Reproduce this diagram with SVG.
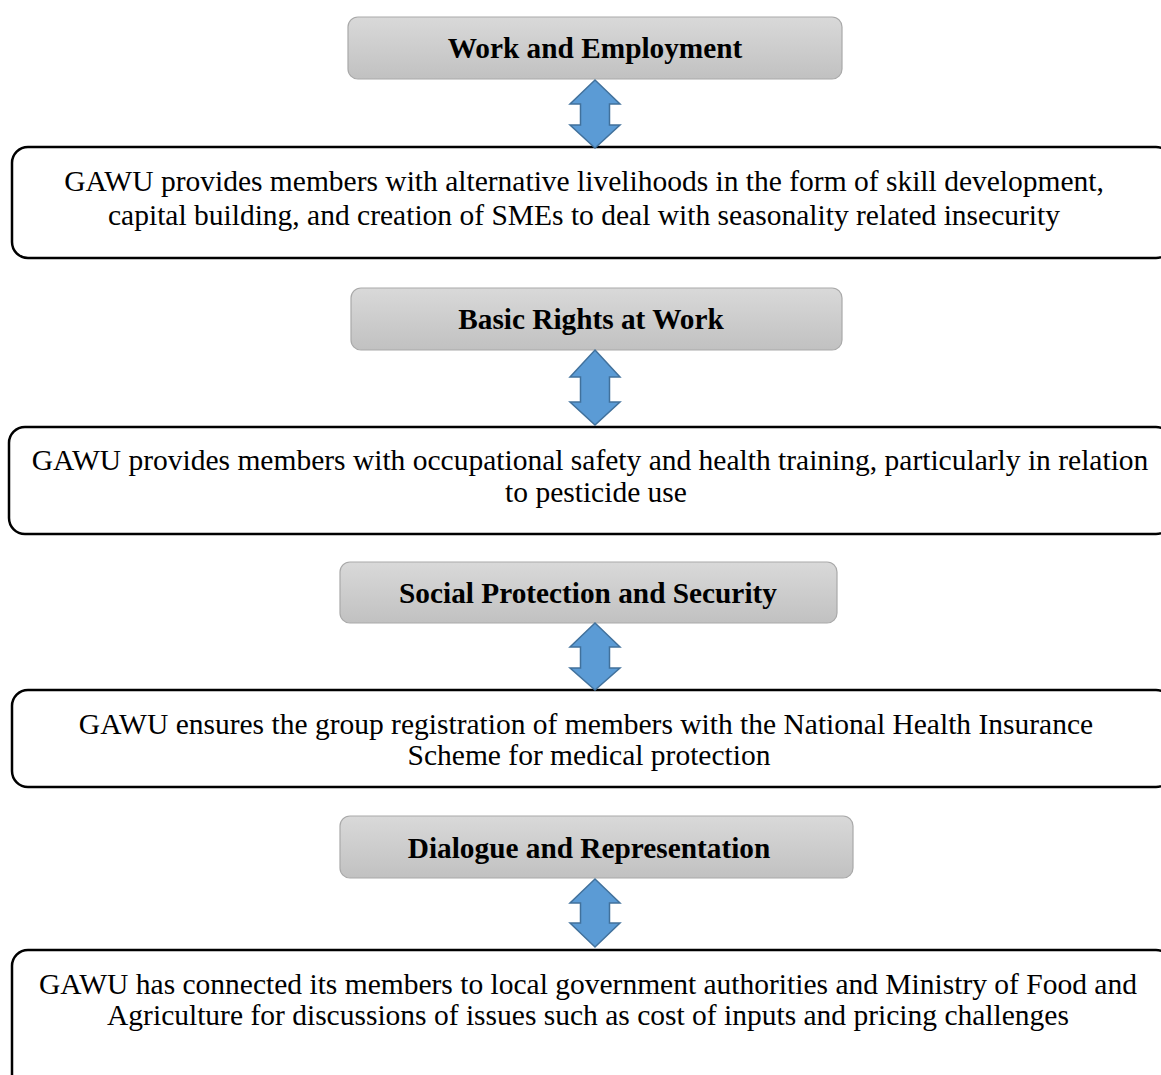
<svg xmlns="http://www.w3.org/2000/svg" width="1161" height="1075" viewBox="0 0 1161 1075">
  <defs>
    <linearGradient id="hdrFill" x1="0" y1="0" x2="0" y2="1">
      <stop offset="0" stop-color="#d9d9d9"/>
      <stop offset="1" stop-color="#c1c1c1"/>
    </linearGradient>
  </defs>
  <style>
    .hdr rect { fill: url(#hdrFill); stroke: #a9a9a9; stroke-width: 1.2; }
    .hdr text { font-family: "Liberation Serif", "Times New Roman", serif; font-weight: bold; font-size: 29.3px; fill: #000; text-anchor: middle; }
    .body rect { fill: #fff; stroke: #000; stroke-width: 2.5; }
    .body text { font-family: "Liberation Serif", "Times New Roman", serif; font-size: 29.5px; fill: #000; text-anchor: middle; }
    .arrow { fill: #5b9bd5; stroke: #41719c; stroke-width: 1.5; stroke-linejoin: miter; }
  </style>
  <rect width="1161" height="1075" fill="#fff"/>

  <!-- Section 1 -->
  <g id="hdr-work" class="hdr">
    <rect x="348" y="17" width="494" height="62" rx="10"/>
    <text x="595" y="58">Work and Employment</text>
  </g>
  <g id="body-work" class="body">
    <rect x="12" y="147" width="1160" height="111" rx="16"/>
    <text x="584" y="191">GAWU provides members with alternative livelihoods in the form of skill development,</text>
    <text x="584" y="225">capital building, and creation of SMEs to deal with seasonality related insecurity</text>
  </g>

  <!-- Section 2 -->
  <g id="hdr-rights" class="hdr">
    <rect x="351" y="288" width="491" height="62" rx="10"/>
    <text x="591" y="329">Basic Rights at Work</text>
  </g>
  <g id="body-rights" class="body">
    <rect x="9" y="427" width="1163" height="107" rx="16"/>
    <text x="590" y="470">GAWU provides members with occupational safety and health training, particularly in relation</text>
    <text x="596" y="502">to pesticide use</text>
  </g>

  <!-- Section 3 -->
  <g id="hdr-social" class="hdr">
    <rect x="340" y="562" width="497" height="61" rx="10"/>
    <text x="588" y="603">Social Protection and Security</text>
  </g>
  <g id="body-social" class="body">
    <rect x="12" y="690" width="1160" height="97" rx="16"/>
    <text x="586" y="734">GAWU ensures the group registration of members with the National Health Insurance</text>
    <text x="589" y="765">Scheme for medical protection</text>
  </g>

  <!-- Section 4 -->
  <g id="hdr-dialogue" class="hdr">
    <rect x="340" y="816" width="513" height="62" rx="10"/>
    <text x="589" y="858">Dialogue and Representation</text>
  </g>
  <g id="body-dialogue" class="body">
    <rect x="12" y="950" width="1160" height="140" rx="16"/>
    <text x="588" y="994">GAWU has connected its members to local government authorities and Ministry of Food and</text>
    <text x="588" y="1025">Agriculture for discussions of issues such as cost of inputs and pricing challenges</text>
  </g>

  <!-- Double-headed connectors between each heading and its description -->
  <g id="connectors">
    <path class="arrow" d="M595 80 L620 104 L609.5 104 L609.5 125 L620 125 L595 148 L570 125 L580.5 125 L580.5 104 L570 104 Z"/>
    <path class="arrow" d="M595 350 L620 377 L609.5 377 L609.5 402 L620 402 L595 425 L570 402 L580.5 402 L580.5 377 L570 377 Z"/>
    <path class="arrow" d="M595 623 L620 647 L609.5 647 L609.5 668 L620 668 L595 690 L570 668 L580.5 668 L580.5 647 L570 647 Z"/>
    <path class="arrow" d="M595 879 L620 903 L609.5 903 L609.5 923 L620 923 L595 947 L570 923 L580.5 923 L580.5 903 L570 903 Z"/>
  </g>
</svg>
